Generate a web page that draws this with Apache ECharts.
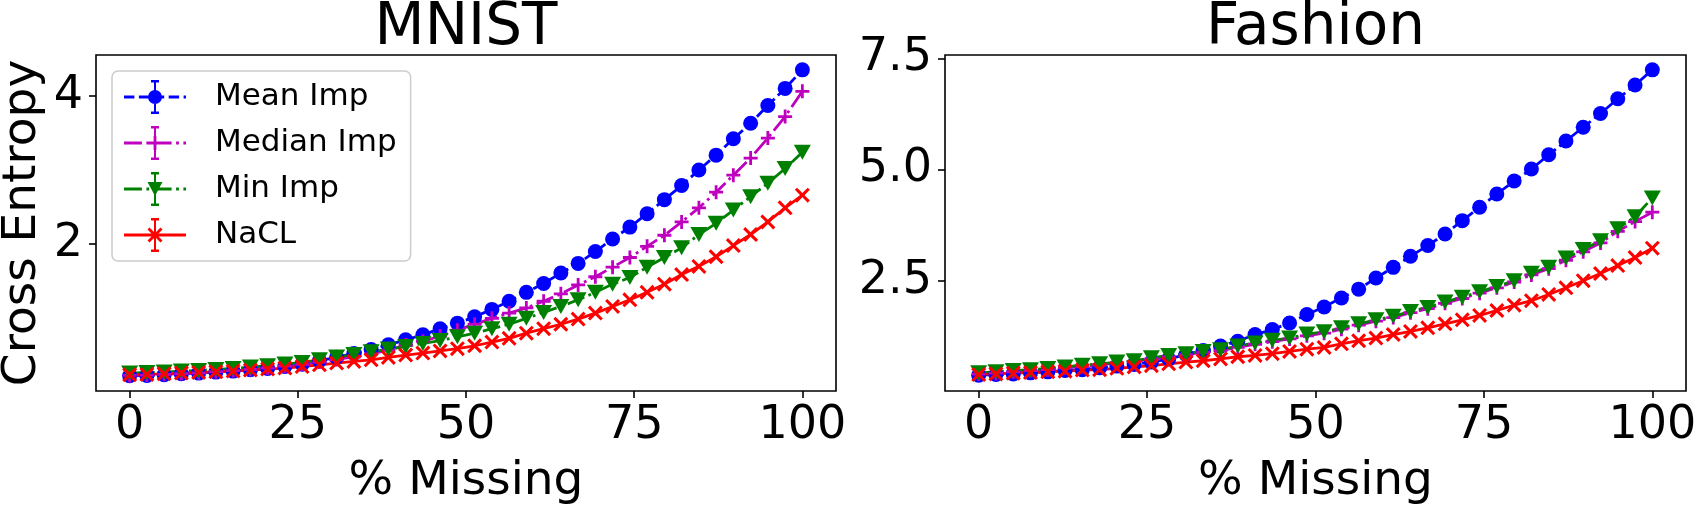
<!DOCTYPE html>
<html>
<head>
<meta charset="utf-8">
<script src="https://cdn.jsdelivr.net/npm/echarts@6/dist/echarts.min.js"></script>
<style>
  html, body { margin: 0; padding: 0; background: #fff; }
  #chart { width: 1694px; height: 505px; }
</style>
</head>
<body>
<div id="chart"></div>
<script>
// % missing, 40 evenly spaced points
const pctMissing = [0, 2.56, 5.13, 7.69, 10.26, 12.82, 15.38, 17.95, 20.51, 23.08,
  25.64, 28.21, 30.77, 33.33, 35.9, 38.46, 41.03, 43.59, 46.15, 48.72,
  51.28, 53.85, 56.41, 58.97, 61.54, 64.1, 66.67, 69.23, 71.79, 74.36,
  76.92, 79.49, 82.05, 84.62, 87.18, 89.74, 92.31, 94.87, 97.44, 100];

const seriesNames = ['Mean Imp', 'Median Imp', 'Min Imp', 'NaCL'];
const xTicks = [0, 25, 50, 75, 100];
const mnistTicks = [2, 4];
const fashionTicks = [2.5, 5.0, 7.5];

// MNIST
const mnistMean = [0.225, 0.229, 0.239, 0.252, 0.261, 0.275, 0.288, 0.306, 0.324, 0.35,
  0.38, 0.427, 0.475, 0.525, 0.58, 0.643, 0.71, 0.778, 0.859, 0.935,
  1.02, 1.12, 1.23, 1.35, 1.47, 1.61, 1.74, 1.90, 2.07, 2.23,
  2.41, 2.60, 2.79, 3.00, 3.20, 3.42, 3.63, 3.87, 4.10, 4.35];
const mnistMedian = [0.23, 0.235, 0.245, 0.255, 0.265, 0.28, 0.295, 0.31, 0.33, 0.355,
  0.38, 0.41, 0.445, 0.48, 0.52, 0.57, 0.64, 0.69, 0.76, 0.84,
  0.92, 1.00, 1.07, 1.14, 1.23, 1.33, 1.45, 1.56, 1.69, 1.82,
  1.97, 2.12, 2.30, 2.49, 2.70, 2.93, 3.16, 3.43, 3.72, 4.06];
const mnistMin = [0.261, 0.27, 0.275, 0.288, 0.297, 0.31, 0.324, 0.342, 0.36, 0.383,
  0.405, 0.441, 0.477, 0.513, 0.549, 0.585, 0.62, 0.66, 0.70, 0.75,
  0.80, 0.86, 0.92, 1.00, 1.08, 1.16, 1.25, 1.35, 1.46, 1.55,
  1.69, 1.82, 1.95, 2.13, 2.28, 2.46, 2.64, 2.82, 3.02, 3.24];
const mnistNacl = [0.239, 0.243, 0.252, 0.261, 0.27, 0.279, 0.288, 0.302, 0.315, 0.329,
  0.35, 0.373, 0.396, 0.418, 0.441, 0.472, 0.505, 0.531, 0.56, 0.59,
  0.63, 0.68, 0.73, 0.80, 0.86, 0.92, 0.99, 1.07, 1.16, 1.25,
  1.35, 1.46, 1.59, 1.70, 1.83, 1.98, 2.13, 2.30, 2.49, 2.66];

// Fashion
const fashionMean = [0.375, 0.39, 0.405, 0.428, 0.45, 0.48, 0.50, 0.54, 0.58, 0.615,
  0.67, 0.74, 0.84, 0.93, 1.03, 1.14, 1.29, 1.40, 1.55, 1.74,
  1.91, 2.11, 2.31, 2.56, 2.80, 3.05, 3.29, 3.55, 3.85, 4.15,
  4.45, 4.74, 5.01, 5.33, 5.64, 5.95, 6.26, 6.59, 6.90, 7.24];
const fashionMedian = [0.40, 0.42, 0.45, 0.48, 0.50, 0.54, 0.57, 0.61, 0.65, 0.68,
  0.74, 0.79, 0.84, 0.89, 0.93, 1.00, 1.07, 1.13, 1.19, 1.26,
  1.32, 1.41, 1.50, 1.59, 1.67, 1.78, 1.87, 1.99, 2.10, 2.22,
  2.34, 2.47, 2.63, 2.77, 2.96, 3.15, 3.35, 3.61, 3.83, 4.04];
const fashionMin = [0.428, 0.45, 0.48, 0.50, 0.525, 0.56, 0.60, 0.63, 0.67, 0.70,
  0.765, 0.82, 0.86, 0.91, 0.95, 1.03, 1.10, 1.16, 1.21, 1.30,
  1.35, 1.44, 1.53, 1.62, 1.70, 1.81, 1.90, 2.02, 2.13, 2.25,
  2.37, 2.50, 2.67, 2.80, 3.01, 3.20, 3.40, 3.67, 3.94, 4.36];
const fashionNacl = [0.39, 0.405, 0.42, 0.435, 0.45, 0.465, 0.49, 0.50, 0.53, 0.56,
  0.59, 0.63, 0.67, 0.70, 0.74, 0.79, 0.82, 0.86, 0.91, 0.96,
  1.00, 1.08, 1.15, 1.21, 1.29, 1.36, 1.44, 1.53, 1.62, 1.72,
  1.83, 1.95, 2.05, 2.19, 2.34, 2.50, 2.66, 2.84, 3.02, 3.23];

const FONT = 'DejaVu Sans';

// marker shapes (matplotlib-like '+' and 'x')
const plusPath = 'path://M5.6,0H8.4V5.6H14V8.4H8.4V14H5.6V8.4H0V5.6H5.6Z';
const crossPath = 'path://M0,2L2,0L7,5L12,0L14,2L9,7L14,12L12,14L7,9L2,14L0,12L5,7Z';

const styles = {
  'Mean Imp':   { color: '#0000ff', symbol: 'circle',   size: 15,       rotate: 0,   dash: [10.4, 4.5] },
  'Median Imp': { color: '#bf00bf', symbol: plusPath,   size: 14,       rotate: 0,   dash: [17.9, 4.5, 2.8, 4.5] },
  'Min Imp':    { color: '#008000', symbol: 'triangle', size: [17, 15], rotate: 180, dash: [17.9, 4.5, 2.8, 4.5] },
  'NaCL':       { color: '#ff0000', symbol: crossPath,  size: 15,       rotate: 0,   dash: 'solid' }
};

// legend handles: line + errorbar + marker, built as filled path (62 x 34 box)
function rect(x0, y0, x1, y1) {
  return 'M' + x0 + ' ' + y0 + 'H' + x1 + 'V' + y1 + 'H' + x0 + 'Z';
}
function lineSegs(segs) {
  return segs.map(s => rect(s[0], 15.6, s[1], 18.4)).join('');
}
const errBar = rect(30, 0, 32, 34) + rect(27, 0, 35, 2.5) + rect(27, 31.5, 35, 34);
const dashSegs = [[0, 10.4], [14.9, 25.3], [29.8, 40.2], [44.7, 55.1], [59.6, 62]];
const dashDotSegs = [[0, 17.9], [22.4, 25.2], [29.7, 47.6], [52.1, 54.9], [59.4, 62]];
const icons = {
  'Mean Imp': lineSegs(dashSegs) + errBar +
    'M38 17A7 7 0 1 1 24 17A7 7 0 1 1 38 17Z',
  'Median Imp': lineSegs(dashDotSegs) + errBar + rect(24, 15.6, 38, 18.4) + rect(29.6, 10, 32.4, 24),
  'Min Imp': lineSegs(dashDotSegs) + errBar + 'M23.5 10L38.5 10L31 24Z',
  'NaCL': lineSegs([[0, 62]]) + errBar +
    'M25.5 9.5L38.5 22.5L36.5 24.5L23.5 11.5Z' +
    'M25.5 24.5L23.5 22.5L36.5 9.5L38.5 11.5Z'
};

function makeSeries(name, vals, g) {
  const st = styles[name];
  return {
    name: name,
    type: 'line',
    xAxisIndex: g,
    yAxisIndex: g,
    data: pctMissing.map((x, i) => [x, vals[i]]),
    symbol: st.symbol,
    symbolSize: st.size,
    symbolRotate: st.rotate,
    showAllSymbol: true,
    clip: false,
    lineStyle: { color: st.color, width: 2.8, type: st.dash, cap: 'butt' },
    itemStyle: { color: st.color, borderWidth: 0 },
    emphasis: { disabled: true }
  };
}

function xAxisFor(g) {
  return {
    type: 'value', gridIndex: g, min: -5, max: 105,
    name: '% Missing', nameLocation: 'middle', nameGap: 67,
    nameTextStyle: { fontSize: 47, color: '#000', fontFamily: FONT },
    axisLine: { show: false, onZero: false },
    splitLine: { show: false },
    axisTick: { show: true, length: 7, lineStyle: { color: '#000', width: 1.6 }, customValues: xTicks },
    axisLabel: { customValues: xTicks, fontSize: 46, color: '#000', margin: 12, fontFamily: FONT }
  };
}

function yAxisFor(g, min, max, ticks, fmt) {
  return {
    type: 'value', gridIndex: g, min: min, max: max,
    axisLine: { show: false, onZero: false },
    splitLine: { show: false },
    axisTick: { show: true, length: 7, lineStyle: { color: '#000', width: 1.6 }, customValues: ticks },
    axisLabel: { customValues: ticks, fontSize: 46, color: '#000', margin: 13, fontFamily: FONT, formatter: fmt }
  };
}

const chart = echarts.init(document.getElementById('chart'));

const yMnist = yAxisFor(0, 0.02, 4.55, mnistTicks, v => String(v));
yMnist.name = 'Cross Entropy';
yMnist.nameLocation = 'middle';
yMnist.nameGap = 50;
yMnist.nameTextStyle = { fontSize: 47, color: '#000', fontFamily: FONT };

chart.setOption({
  animation: false,
  backgroundColor: '#fff',
  textStyle: { fontFamily: FONT },
  title: [
    { text: 'MNIST', left: 466, top: 0, padding: 0, textAlign: 'center',
      textStyle: { fontSize: 58, fontWeight: 'normal', color: '#000', fontFamily: FONT } },
    { text: 'Fashion', left: 1315.5, top: 0, padding: 0, textAlign: 'center',
      textStyle: { fontSize: 58, fontWeight: 'normal', color: '#000', fontFamily: FONT } }
  ],
  grid: [
    { left: 96, top: 55, width: 740, height: 336, outerBoundsMode: 'none', containLabel: false,
      show: true, borderColor: '#000', borderWidth: 1.6, backgroundColor: 'transparent' },
    { left: 945, top: 55, width: 741, height: 336, outerBoundsMode: 'none', containLabel: false,
      show: true, borderColor: '#000', borderWidth: 1.6, backgroundColor: 'transparent' }
  ],
  xAxis: [xAxisFor(0), xAxisFor(1)],
  yAxis: [yMnist, yAxisFor(1, 0.02, 7.574, fashionTicks, v => v.toFixed(1))],
  legend: {
    orient: 'vertical', left: 112, top: 71,
    padding: [9, 14, 9, 12],
    itemWidth: 62, itemHeight: 34, itemGap: 12,
    backgroundColor: 'rgba(255,255,255,0.8)',
    borderColor: '#cccccc', borderWidth: 1.5, borderRadius: 6,
    selectedMode: false,
    textStyle: { fontSize: 31, color: '#000', fontFamily: FONT, padding: [0, 0, 0, 24] },
    itemStyle: { borderWidth: 0 },
    data: seriesNames.map(n => ({ name: n, icon: 'path://' + icons[n] }))
  },
  series: [
    makeSeries('Mean Imp', mnistMean, 0),
    makeSeries('Median Imp', mnistMedian, 0),
    makeSeries('Min Imp', mnistMin, 0),
    makeSeries('NaCL', mnistNacl, 0),
    makeSeries('Mean Imp', fashionMean, 1),
    makeSeries('Median Imp', fashionMedian, 1),
    makeSeries('Min Imp', fashionMin, 1),
    makeSeries('NaCL', fashionNacl, 1)
  ]
});
</script>
</body>
</html>
